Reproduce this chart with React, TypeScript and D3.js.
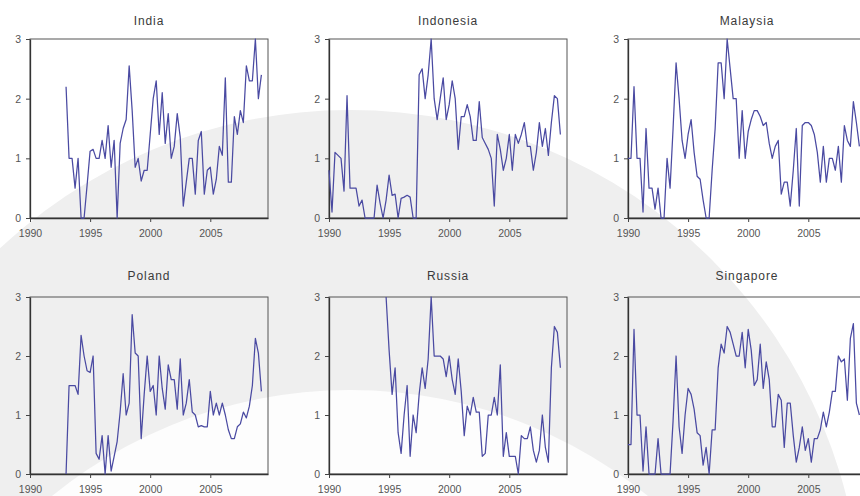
import React, { useEffect, useRef } from 'react';
import * as d3 from 'd3';

// quarterly series, first value at the given start year
const countries = ['India', 'Indonesia', 'Malaysia', 'Poland', 'Russia', 'Singapore'];
const startYears = [1993, 1990, 1990, 1993, 1994.75, 1990];

const india = [2.2, 1.0, 1.0, 0.5, 1.0, 0.0, 0.0, 0.55, 1.12, 1.15, 1.0, 1.0, 1.3, 1.0, 1.55, 0.85, 1.3, 0.0,
  1.25, 1.5, 1.65, 2.55, 1.8, 0.85, 1.0, 0.62, 0.8, 0.8, 1.4, 2.0, 2.3, 1.4, 2.1, 1.25, 1.75, 1.0, 1.2, 1.75,
  1.35, 0.2, 0.6, 1.0, 1.0, 0.4, 1.3, 1.45, 0.4, 0.8, 0.85, 0.4, 0.65, 1.2, 1.05, 2.35, 0.6, 0.6, 1.7, 1.4,
  1.8, 1.6, 2.55, 2.3, 2.3, 3.0, 2.0, 2.4];
const indonesia = [0.8, 0.1, 1.1, 1.05, 1.0, 0.45, 2.05, 0.5, 0.5, 0.5, 0.2, 0.3, 0.0, 0.0, 0.0, 0.0, 0.55, 0.25,
  0.0, 0.3, 0.72, 0.38, 0.4, 0.0, 0.33, 0.35, 0.38, 0.35, 0.0, 0.0, 2.4, 2.5, 2.0, 2.4, 3.0, 2.0, 1.65, 2.0,
  2.35, 1.65, 1.9, 2.3, 2.0, 1.15, 1.7, 1.7, 1.9, 1.7, 1.3, 1.3, 1.95, 1.35, 1.25, 1.15, 1.0, 0.2, 1.4, 1.15,
  0.8, 1.0, 1.4, 0.8, 1.4, 1.25, 1.4, 1.6, 1.2, 1.2, 0.8, 1.1, 1.6, 1.2, 1.5, 1.05, 1.6, 2.05, 2.0, 1.4];
const malaysia = [1.0, 1.0, 2.2, 1.0, 1.0, 0.1, 1.5, 0.5, 0.5, 0.15, 0.5, 0.0, 0.0, 1.0, 0.5, 1.5, 2.6, 2.0,
  1.3, 1.0, 1.4, 1.65, 1.1, 0.7, 0.65, 0.3, 0.0, 0.0, 0.8, 1.5, 2.6, 2.6, 2.0, 3.0, 2.5, 2.0, 2.0, 1.0, 1.8,
  1.0, 1.45, 1.65, 1.8, 1.8, 1.7, 1.55, 1.6, 1.25, 1.0, 1.2, 1.3, 0.4, 0.6, 0.6, 0.2, 0.8, 1.5, 0.2, 1.55,
  1.6, 1.6, 1.55, 1.4, 1.1, 0.6, 1.2, 0.6, 1.0, 1.0, 0.8, 1.2, 0.6, 1.55, 1.3, 1.2, 1.95, 1.6, 1.2];
const poland = [0.0, 1.5, 1.5, 1.5, 1.35, 2.35, 2.0, 1.75, 1.72, 2.0, 0.35, 0.25, 0.65, 0.0, 0.65, 0.05, 0.3,
  0.55, 1.05, 1.7, 1.0, 1.2, 2.7, 2.05, 2.0, 0.6, 1.35, 2.0, 1.4, 1.5, 1.0, 2.0, 1.45, 1.1, 1.85, 1.6, 1.6,
  1.1, 1.95, 1.0, 1.2, 1.6, 1.05, 1.0, 0.8, 0.82, 0.8, 0.8, 1.4, 1.0, 1.2, 1.0, 1.2, 1.0, 0.75, 0.6, 0.6, 0.8,
  0.85, 1.05, 0.95, 1.15, 1.5, 2.3, 2.05, 1.4];
const russia = [3.0, 2.1, 1.35, 1.8, 0.7, 0.35, 1.0, 1.5, 0.3, 1.0, 0.7, 1.35, 1.8, 1.45, 1.95, 3.0, 2.0, 2.0,
  2.0, 1.95, 1.65, 2.0, 1.6, 1.35, 1.95, 1.4, 0.65, 1.15, 1.0, 1.3, 1.05, 1.05, 0.3, 0.35, 1.0, 1.0, 1.3, 1.0,
  1.85, 0.3, 0.7, 0.3, 0.3, 0.3, 0.0, 0.65, 0.6, 0.6, 0.8, 0.4, 0.2, 0.4, 1.0, 0.45, 0.2, 1.8, 2.5, 2.4, 1.8];
const singapore = [0.5, 0.5, 2.45, 1.0, 1.0, 0.05, 0.8, 0.0, 0.0, 0.0, 0.6, 0.0, 0.0, 0.0, 0.0, 0.9, 2.0, 0.8,
  0.35, 1.0, 1.45, 1.35, 1.1, 0.7, 0.65, 0.15, 0.45, 0.0, 0.75, 0.75, 1.8, 2.2, 2.05, 2.5, 2.4, 2.2, 2.0, 2.0,
  2.4, 1.8, 2.45, 2.1, 1.5, 1.6, 2.2, 1.45, 1.9, 1.6, 0.8, 0.8, 1.35, 1.25, 0.45, 1.2, 1.2, 0.65, 0.2, 0.45,
  0.8, 0.4, 0.6, 0.2, 0.6, 0.6, 0.75, 1.05, 0.8, 1.05, 1.4, 1.4, 2.0, 1.9, 1.95, 1.25, 2.3, 2.55, 1.2, 1.0];

const seriesValues = [india, indonesia, malaysia, poland, russia, singapore];
const xTicks = [1990, 1995, 2000, 2005];
const yTicks = [0, 1, 2, 3];

export default function App() {
  const ref = useRef<SVGSVGElement>(null);

  useEffect(() => {
    const svg = d3.select(ref.current);
    svg.selectAll('*').remove();
    const width = 860, height = 496;

    // faint watermark behind the panels
    svg.append('rect').attr('width', width).attr('height', height).attr('fill', '#fff');
    svg.append('circle').attr('cx', 350).attr('cy', 622).attr('r', 512).attr('fill', '#efefef');
    svg.append('circle').attr('cx', 350).attr('cy', 862).attr('r', 472).attr('fill', '#fdfdfd');

    const lefts = [30, 329, 628];
    const tops = [39, 297];
    const bottoms = [218, 474];
    const titleY = [24.5, 280];
    const w = 238;

    const line = d3.line<[number, number]>()
      .x(d => d[0])
      .y(d => d[1]);

    countries.forEach((name, i) => {
      const col = i % 3, row = Math.floor(i / 3);
      const h = bottoms[row] - tops[row];
      const x = d3.scaleLinear().domain([1990, 2009.8]).range([0, w]);
      const y = d3.scaleLinear().domain([0, 3]).range([h, 0]);
      const g = svg.append('g').attr('transform', `translate(${lefts[col]},${tops[row]})`);

      // frame
      g.append('rect').attr('width', w).attr('height', h)
        .attr('fill', 'none').attr('stroke', '#555').attr('stroke-width', 1);

      const xa = g.append('g').attr('transform', `translate(0,${h})`)
        .call(d3.axisBottom(x).tickValues(xTicks).tickFormat(d3.format('d')).tickSize(4).tickSizeOuter(0).tickPadding(8));
      const ya = g.append('g')
        .call(d3.axisLeft(y).tickValues(yTicks).tickFormat(d3.format('d')).tickSize(4).tickSizeOuter(0).tickPadding(5));
      [xa, ya].forEach(a => {
        a.select('.domain').attr('stroke', '#333').attr('stroke-width', 1.3);
        a.selectAll('.tick line').attr('stroke', '#444');
        a.selectAll('text').attr('fill', '#555').style('font-family', 'Liberation Sans, Arial, sans-serif')
          .style('font-size', '10.5px');
      });

      const pts = seriesValues[i].map((v, k) => [x(startYears[i] + k / 4), y(v)] as [number, number]);
      g.append('path').attr('d', line(pts)).attr('fill', 'none')
        .attr('stroke', '#4a4aa2').attr('stroke-width', 1.25).attr('stroke-linejoin', 'round');

      svg.append('text').attr('x', lefts[col] + w / 2).attr('y', titleY[row])
        .attr('text-anchor', 'middle').attr('fill', '#3a3a3a')
        .style('font-family', 'Liberation Sans, Arial, sans-serif').style('font-size', '12px')
        .style('letter-spacing', '0.9px').text(name);
    });
  }, []);

  return (
    <svg ref={ref} width={860} height={496}
      style={{ position: 'absolute', left: 0, top: 0, display: 'block' }} />
  );
}
